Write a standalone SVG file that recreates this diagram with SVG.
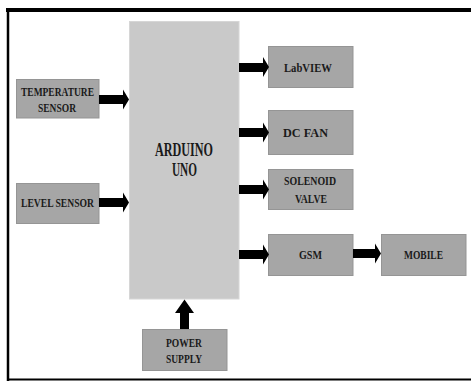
<svg xmlns="http://www.w3.org/2000/svg" width="471" height="381" viewBox="0 0 471 381">
<style>
.box{fill:#a6a6a6;stroke:#959595;stroke-width:1}
.mcu{fill:#c9c9c9;stroke:#d6d6d6;stroke-width:1}
.t{font-family:"Liberation Serif","Times New Roman",serif;font-weight:bold;font-size:13px;fill:#1a1a1a;lengthAdjust:spacingAndGlyphs}
.big{font-size:19px}
.arr{fill:#000}
.frame{stroke:#000;fill:none}
</style>
<rect width="471" height="381" fill="#fff"/>
<g id="frame">
<line class="frame" x1="6" y1="10" x2="471" y2="10" stroke-width="4"/>
<line class="frame" x1="8" y1="8" x2="8" y2="381" stroke-width="2.5"/>
<line class="frame" x1="7" y1="379.5" x2="471" y2="379.5" stroke-width="2"/>
</g>
<g id="arduino">
<rect class="mcu" x="129.5" y="21.5" width="109.5" height="277.5"/>
<text class="t big" x="155" y="156" textLength="58" lengthAdjust="spacingAndGlyphs">ARDUINO</text>
<text class="t big" x="172" y="176" textLength="25" lengthAdjust="spacingAndGlyphs">UNO</text>
</g>
<g id="temperature">
<rect class="box" x="16.5" y="79.5" width="82.5" height="38.5"/>
<text class="t" x="21" y="95.5" textLength="73" lengthAdjust="spacingAndGlyphs">TEMPERATURE</text>
<text class="t" x="38" y="112" textLength="38" lengthAdjust="spacingAndGlyphs">SENSOR</text>
</g>
<g id="level">
<rect class="box" x="16.5" y="183.5" width="82.5" height="40"/>
<text class="t" x="21" y="207" textLength="73" lengthAdjust="spacingAndGlyphs">LEVEL SENSOR</text>
</g>
<g id="labview">
<rect class="box" x="268.5" y="46.5" width="84.5" height="41"/>
<text class="t" x="284" y="72" textLength="48" lengthAdjust="spacingAndGlyphs">LabVIEW</text>
</g>
<g id="dcfan">
<rect class="box" x="268.5" y="110.5" width="84.5" height="44"/>
<text class="t" x="283" y="137" textLength="45" lengthAdjust="spacingAndGlyphs">DC FAN</text>
</g>
<g id="solenoid">
<rect class="box" x="268.5" y="169.5" width="84.5" height="40"/>
<text class="t" x="284" y="185" textLength="52" lengthAdjust="spacingAndGlyphs">SOLENOID</text>
<text class="t" x="295" y="203" textLength="32" lengthAdjust="spacingAndGlyphs">VALVE</text>
</g>
<g id="gsm">
<rect class="box" x="268.5" y="234.5" width="84.5" height="41"/>
<text class="t" x="299" y="259" textLength="23" lengthAdjust="spacingAndGlyphs">GSM</text>
</g>
<g id="mobile">
<rect class="box" x="381.5" y="234.5" width="84.5" height="41"/>
<text class="t" x="404" y="259" textLength="39" lengthAdjust="spacingAndGlyphs">MOBILE</text>
</g>
<g id="power">
<rect class="box" x="142.5" y="329.5" width="84.5" height="41"/>
<text class="t" x="166" y="347" textLength="36" lengthAdjust="spacingAndGlyphs">POWER</text>
<text class="t" x="166" y="363" textLength="36" lengthAdjust="spacingAndGlyphs">SUPPLY</text>
</g>
<g id="connectors">
<path class="arr" d="M99,95 H123 V89.5 L129,99.5 L123,109.5 V104 H99 Z"/>
<path class="arr" d="M99,198 H123 V192.5 L129,202.5 L123,212.5 V207 H99 Z"/>
<path class="arr" d="M239,63 H263 V57 L269,67 L263,77 V72 H239 Z"/>
<path class="arr" d="M239,128 H263 V122.5 L269,132.5 L263,142.5 V137 H239 Z"/>
<path class="arr" d="M239,185 H263 V179.5 L269,189.5 L263,199.5 V194 H239 Z"/>
<path class="arr" d="M239,250 H263 V244.5 L269,254.5 L263,264.5 V259 H239 Z"/>
<path class="arr" d="M353,249 H375 V243.5 L381,253.5 L375,263.5 V258 H353 Z"/>
<path class="arr" d="M180,329 V313 H175 L184.5,299.5 L194,313 H189 V329 Z"/>
</g>
</svg>
